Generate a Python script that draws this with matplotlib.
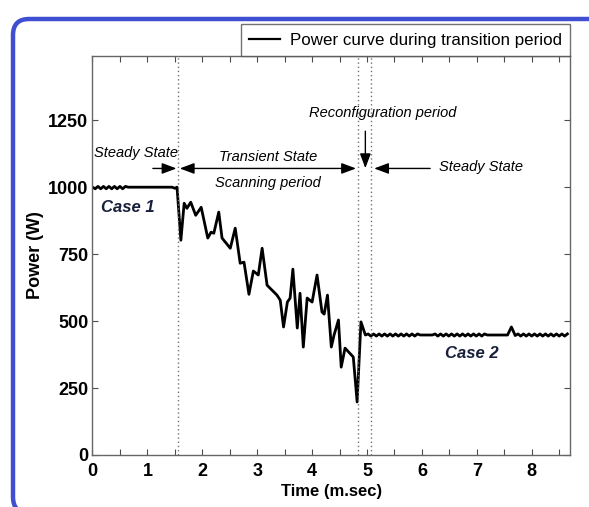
"""Power curve of the converter through the reconfiguration transient."""

import matplotlib.pyplot as plt
from matplotlib.patches import FancyBboxPatch
from matplotlib.ticker import MultipleLocator

# Case 1 steady state (ms, W)
case1_t = [0.00, 0.05, 0.10, 0.15, 0.20, 0.25, 0.30, 0.35, 0.40, 0.45,
           0.50, 0.55, 0.60, 0.65, 1.45, 1.50, 1.54]
case1_p = [1000, 994, 1003, 994, 1003, 994, 1003, 994, 1003, 994,
           1003, 994, 1003, 1000, 1000, 996, 1000]

# Scanning / transient period
trans_t = [1.61, 1.67, 1.72, 1.79, 1.88, 1.98, 2.10, 2.16, 2.21, 2.30,
           2.36, 2.51, 2.60, 2.69, 2.76, 2.85, 2.93, 3.02, 3.09, 3.18,
           3.36, 3.42, 3.48, 3.55, 3.60, 3.65, 3.73, 3.78, 3.84, 3.91,
           4.00, 4.09, 4.18, 4.22, 4.28, 4.35, 4.40, 4.48, 4.53, 4.60,
           4.75, 4.82, 4.89, 4.97]
trans_p = [802, 940, 921, 944, 895, 925, 810, 832, 828, 907,
           810, 772, 847, 716, 720, 600, 687, 672, 772, 634,
           597, 578, 478, 571, 586, 694, 474, 604, 403, 586,
           571, 672, 534, 526, 597, 403, 448, 504, 328, 399,
           366, 198, 497, 448]

# Case 2 steady state after reconfiguration
case2_t = [5.02, 5.07, 5.12, 5.17, 5.22, 5.27, 5.32, 5.37, 5.42, 5.47,
           5.52, 5.57, 5.62, 5.67, 5.72, 5.77, 5.82, 5.87, 5.92, 5.97,
           6.19, 6.24, 6.29, 6.34, 6.39, 6.44, 6.49, 6.54, 6.59, 6.64,
           6.69, 6.74, 6.79, 6.84, 6.89, 6.94, 6.99, 7.04, 7.09, 7.14,
           7.19, 7.56, 7.63, 7.70, 7.75, 7.80, 7.85, 7.90, 7.95, 8.00,
           8.05, 8.10, 8.15, 8.20, 8.25, 8.30, 8.35, 8.40, 8.45, 8.50,
           8.55, 8.60, 8.65]
case2_p = [452, 444, 452, 444, 452, 444, 452, 444, 452, 444,
           452, 444, 452, 444, 452, 444, 452, 444, 452, 448,
           448, 452, 444, 452, 444, 452, 444, 452, 444, 452,
           444, 452, 444, 452, 444, 452, 444, 452, 444, 452,
           448, 448, 478, 446, 452, 444, 452, 444, 452, 444,
           452, 444, 452, 444, 452, 444, 452, 444, 452, 444,
           452, 444, 452]

# Boundaries of the scanning and reconfiguration periods
boundaries = [1.55, 4.83, 5.07]

time = case1_t + trans_t + case2_t
power = case1_p + trans_p + case2_p

plt.rcParams["font.family"] = ["Liberation Sans", "DejaVu Sans"]

fig = plt.figure(figsize=(5.89, 5.07), dpi=100)
ax = fig.add_axes([0.157, 0.1026, 0.811, 0.787])

line, = ax.plot(time, power, color="black", lw=2.0)
for xb in boundaries:
    ax.axvline(xb, color="0.45", lw=1.0, ls=(0, (1, 2)))

ax.set_xlim(0, 8.7)
ax.set_ylim(0, 1490)
ax.xaxis.set_major_locator(MultipleLocator(1))
ax.xaxis.set_minor_locator(MultipleLocator(0.5))
ax.set_yticks([0, 250, 500, 750, 1000, 1250])
ax.tick_params(which="both", direction="in", top=True, right=True,
               length=4, width=0.8, color="0.3")
ax.tick_params(axis="x", pad=6)
ax.tick_params(axis="y", pad=3)
for lab in ax.get_xticklabels() + ax.get_yticklabels():
    lab.set_fontsize(13)
    lab.set_fontweight("bold")
for sp in ax.spines.values():
    sp.set_color("0.4")
    sp.set_linewidth(1.0)

ax.set_xlabel("Time (m.sec)", fontsize=12, fontweight="bold", labelpad=3)
ax.set_ylabel("Power (W)", fontsize=13, fontweight="bold", labelpad=3)

leg = ax.legend([line], ["Power curve during transition period"],
                loc="lower right", bbox_to_anchor=(1.0, 1.0),
                borderaxespad=0, fancybox=False, frameon=True,
                handlelength=1.8, handletextpad=0.6, borderpad=0.5,
                prop={"size": 12.2})
leg.get_frame().set_edgecolor("0.3")
leg.get_frame().set_linewidth(1.0)
leg.get_lines()[0].set_linewidth(1.6)

# annotations
txt = dict(fontsize=10.5, style="italic", ha="center", va="center")
ax.text(0.80, 1127, "Steady State", **txt)
ax.text(3.2, 1112, "Transient State", **txt)
ax.text(3.2, 1015, "Scanning period", **txt)
ax.text(5.28, 1276, "Reconfiguration period", **txt)
ax.text(7.08, 1075, "Steady State", **txt)

head = dict(color="black", lw=1.0, shrinkA=0, shrinkB=0, mutation_scale=11)
ax.annotate("", xy=(1.53, 1070), xytext=(1.10, 1070),
            arrowprops=dict(arrowstyle="-|>,head_length=0.8,head_width=0.3", **head))
ax.annotate("", xy=(4.80, 1070), xytext=(1.59, 1070),
            arrowprops=dict(arrowstyle="<|-|>,head_length=0.8,head_width=0.3", **head))
ax.annotate("", xy=(4.97, 1071), xytext=(4.97, 1209),
            arrowprops=dict(arrowstyle="-|>,head_length=0.8,head_width=0.3", **head))
ax.annotate("", xy=(5.13, 1070), xytext=(6.15, 1070),
            arrowprops=dict(arrowstyle="-|>,head_length=0.8,head_width=0.3", **head))

case = dict(fontsize=12, style="italic", fontweight="bold", color="#17203a",
            ha="center", va="center")
ax.text(0.64, 925, "Case 1", **case)
ax.text(6.9, 380, "Case 2", **case)

# rounded blue frame around the figure
frame = FancyBboxPatch((0.13, -0.06), 6.0, 4.94,
                       boxstyle="round,pad=0,rounding_size=0.16",
                       transform=fig.dpi_scale_trans, fill=False,
                       edgecolor="#3f4fd2", lw=3.2, clip_on=False)
fig.add_artist(frame)

fig.savefig("out.png", dpi=100)
